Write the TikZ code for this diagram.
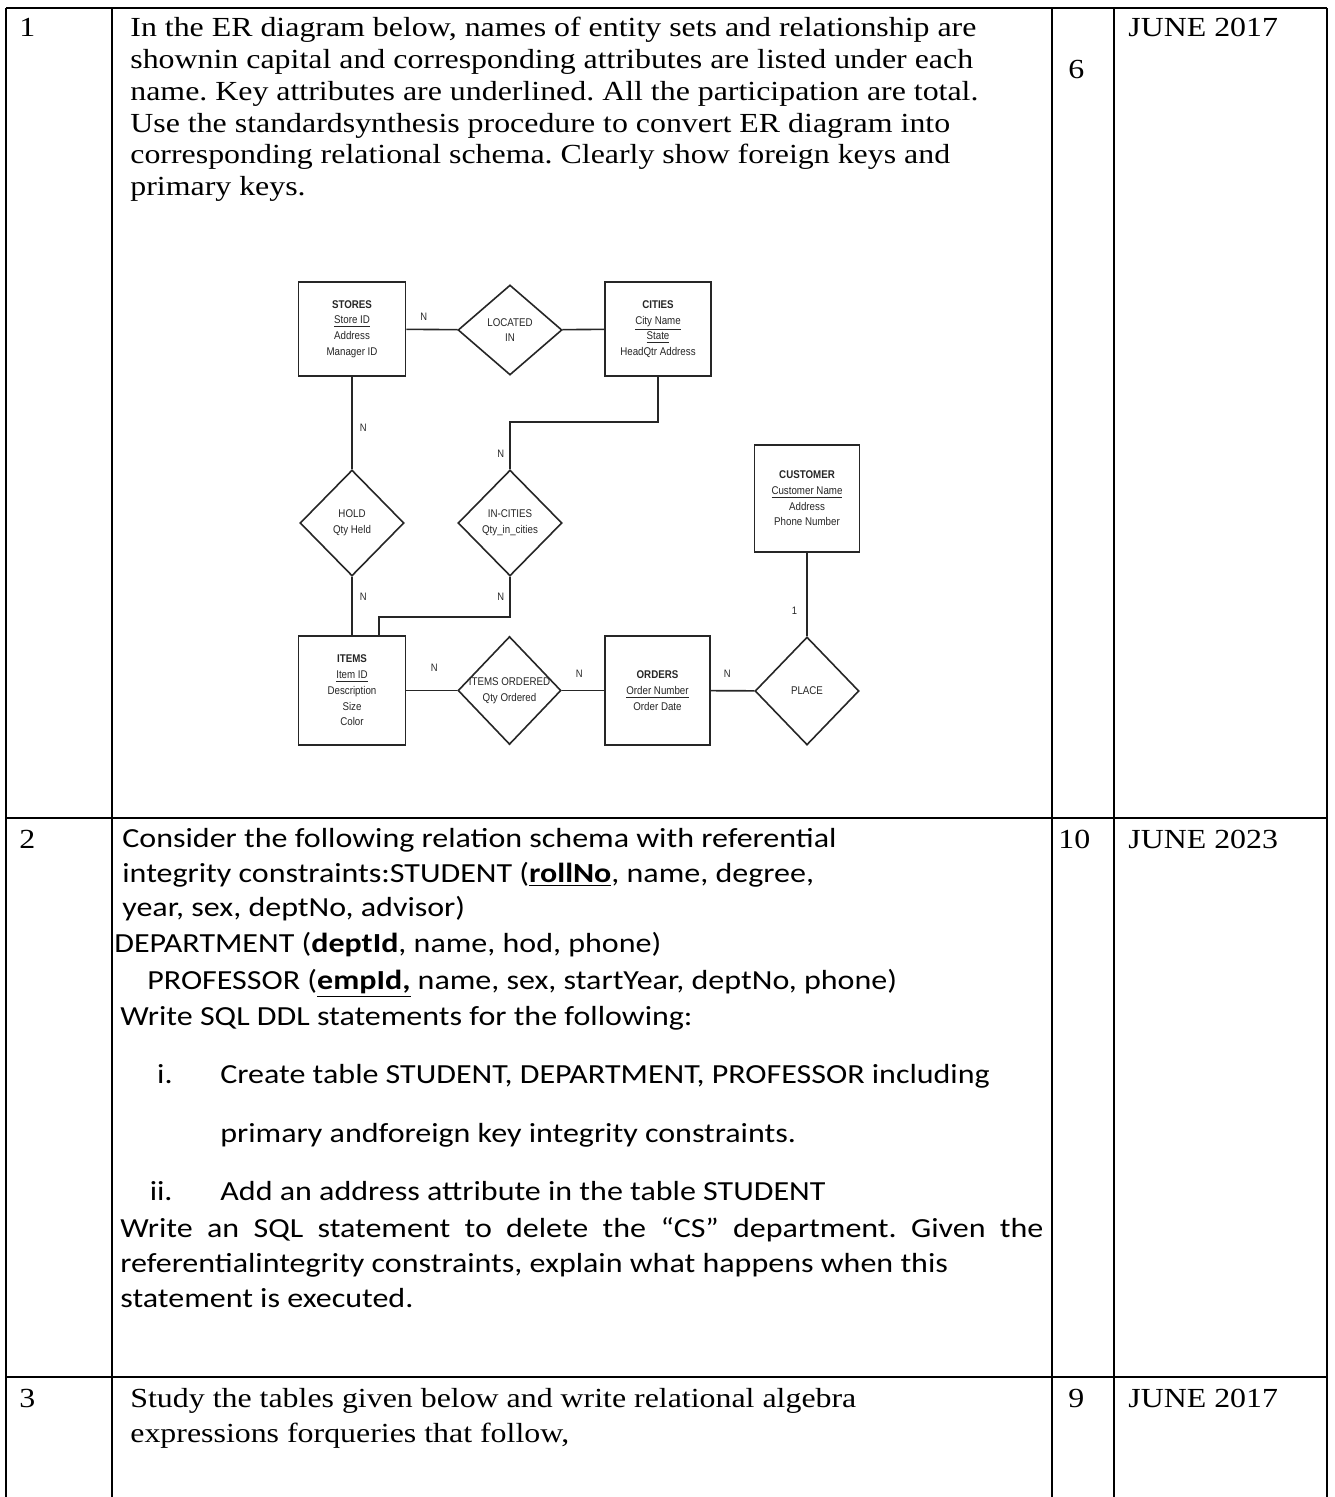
\documentclass[tikz,border=0pt]{standalone}
\usepackage{fontspec}
\setmainfont[FakeStretch=1.155]{Liberation Serif}
\newfontfamily\calfont[FakeStretch=1.16]{Carlito}
\newfontfamily\erfont[FakeStretch=0.87]{Liberation Sans}
\usetikzlibrary{positioning,shapes.geometric}
\definecolor{erColor}{HTML}{262626}
\frenchspacing
\tikzset{
	rowtext/.style={anchor=base west, inner sep=0, font=\fontsize{13.8}{15.85}\selectfont},
	caltext/.style={anchor=base west, inner sep=0, font=\calfont\fontsize{13.8}{17.6}\selectfont},
	hrule/.style={line width=1.4pt},
	vrule/.style={line width=1pt},
	entbox/.style={draw, rectangle, align=center, inner sep=0, text=erColor,
		font=\erfont\fontsize{5.6}{7.85}\selectfont},
	relbox/.style={draw, diamond, inner sep=0},
	reltext/.style={align=center, inner sep=0, text=erColor,
		font=\erfont\fontsize{5.6}{7.85}\selectfont},
	card/.style={inner sep=1pt, text=erColor, font=\erfont\fontsize{5.4}{6}\selectfont}
}

\begin{document}
\begin{tikzpicture}[x=0.5pt, y=-0.5pt]
	\path[use as bounding box, fill=white] (0,0) rectangle (1334,1497);
	% table frame
	\draw[hrule] (6,8) -- (1327,8);
	\draw[hrule] (6,818) -- (1327,818);
	\draw[hrule] (6,1377) -- (1327,1377);
	\foreach \x in {6,112,1052,1114,1327}
		\draw[vrule] (\x,8) -- (\x,1497);
	% first column, marks and dates
	\node[rowtext] (q1) at (19,37) {1};
	\node[rowtext] (q2) at (19,848) {2};
	\node[rowtext] (q3) at (19,1407) {3};
	\node[rowtext] (m1) at (1068,79) {6};
	\node[rowtext] (m2) at (1058,848) {10};
	\node[rowtext] (m3) at (1068,1407) {9};
	\node[rowtext] (d1) at (1128,37) {JUNE 2017};
	\node[rowtext] (d2) at (1128,848) {JUNE 2023};
	\node[rowtext] (d3) at (1128,1407) {JUNE 2017};
	% question 1
	\node[rowtext] (q1_1) at (130,37) {In the ER diagram below, names of entity sets and relationship are};
	\node[rowtext] (q1_2) at (130,68.7) {shownin capital and corresponding attributes are listed under each};
	\node[rowtext] (q1_3) at (130,100.4) {name. Key attributes are underlined. All the participation are total.};
	\node[rowtext] (q1_4) at (130,132.1) {Use the standardsynthesis procedure to convert ER diagram into};
	\node[rowtext] (q1_5) at (130,163.8) {corresponding relational schema. Clearly show foreign keys and};
	\node[rowtext] (q1_6) at (130,195.5) {primary keys.};
	% ER diagram
	\begin{scope}[draw=erColor, line width=0.8pt]
		\node[entbox, minimum width=53.5pt, minimum height=47pt] (st) at (352,329)
			{\textbf{STORES}\\\underline{Store ID}\\Address\\Manager ID};
		\node[entbox, minimum width=53pt, minimum height=47pt] (ct) at (658,329)
			{\textbf{CITIES}\\\underline{City Name}\\\underline{State}\\HeadQtr Address};
		\node[relbox, minimum width=52pt, minimum height=45pt] (li) at (510,330) {};
		\node[reltext] (li_t) at (li) {LOCATED\\IN};
		\node[relbox, minimum width=52pt, minimum height=53pt] (ho) at (352,523) {};
		\node[reltext] (ho_t) at (ho) {HOLD\\Qty Held};
		\node[relbox, minimum width=52pt, minimum height=53pt] (ic) at (510,523) {};
		\node[reltext] (ic_t) at (ic) {IN-CITIES\\Qty\_in\_cities};
		\node[entbox, minimum width=52.5pt, minimum height=53.5pt] (cu) at (807,498.5)
			{\textbf{CUSTOMER}\\\underline{Customer Name}\\Address\\Phone Number};
		\node[entbox, minimum width=53.5pt, minimum height=54.5pt] (it) at (352,690.5)
			{\textbf{ITEMS}\\\underline{Item ID}\\Description\\Size\\Color};
		\node[relbox, minimum width=51.5pt, minimum height=54pt] (io) at (509.5,690.5) {};
		\node[reltext] (io_t) at (io) {ITEMS ORDERED\\Qty Ordered};
		\node[entbox, minimum width=52.5pt, minimum height=54.5pt] (or) at (657.5,690.5)
			{\textbf{ORDERS}\\\underline{Order Number}\\Order Date};
		\node[relbox, minimum width=52pt, minimum height=54pt] (pl) at (807,691) {};
		\node[reltext] (pl_t) at (pl) {PLACE};
		\coordinate (b1) at (584,422);
		\coordinate (b2) at (379,617);
		\path (st) edge node[card, pos=.34, above=3pt] {N} (li);
		\path (li) edge (ct);
		\path (st) edge node[card, pos=.55, right=2.5pt] {N} (ho);
		\draw (ct) |- (b1) -| node[card, pos=.84, left=1.5pt] {N} (ic);
		\path (ho) edge node[card, pos=.34, right=2.5pt] {N} (it);
		\draw (ic) |- node[card, pos=.25, left=1.5pt] {N} (b2) -- (b2 |- it.north);
		\path (it) edge node[card, pos=.55, above=8pt] {N} (io);
		\path (io) edge node[card, pos=.41, above=5pt] {N} (or);
		\path (or) edge node[card, pos=.38, above=5pt] {N} (pl);
		\path (cu) edge node[card, pos=.7, left=3.5pt] {1} (pl);
	\end{scope}
	% question 2
	\node[caltext] (q2_1) at (122,847) {Consider the following relation schema with referential};
	\node[caltext] (q2_2) at (122,882) {integrity constraints:STUDENT (\textbf{\underline{rollNo}}, name, degree,};
	\node[caltext] (q2_3) at (122,916) {year, sex, deptNo, advisor)};
	\node[caltext] (q2_4) at (114,952) {DEPARTMENT (\textbf{deptId}, name, hod, phone)};
	\node[caltext] (q2_5) at (147,989) {PROFESSOR (\textbf{\underline{empId,}} name, sex, startYear, deptNo, phone)};
	\node[caltext] (q2_6) at (120,1025) {Write SQL DDL statements for the following:};
	\node[caltext, anchor=base east] (q2_i) at (173,1083) {i.};
	\node[caltext] (q2_7) at (220,1083) {Create table STUDENT, DEPARTMENT, PROFESSOR including};
	\node[caltext] (q2_8) at (220,1142) {primary andforeign key integrity constraints.};
	\node[caltext, anchor=base east] (q2_ii) at (173,1200) {ii.};
	\node[caltext] (q2_9) at (220,1200) {Add an address attribute in the table STUDENT};
	\node[caltext] (q2_10) at (120,1237)
		{\makebox[461.5pt][s]{Write an SQL statement to delete the “CS” department. Given the}};
	\node[caltext] (q2_11) at (120,1272) {referentialintegrity constraints, explain what happens when this};
	\node[caltext] (q2_12) at (120,1307) {statement is executed.};
	% question 3
	\node[rowtext] (q3_1) at (130,1407) {Study the tables given below and write relational algebra};
	\node[rowtext] (q3_2) at (130,1442) {expressions forqueries that follow,};
\end{tikzpicture}
\end{document}
